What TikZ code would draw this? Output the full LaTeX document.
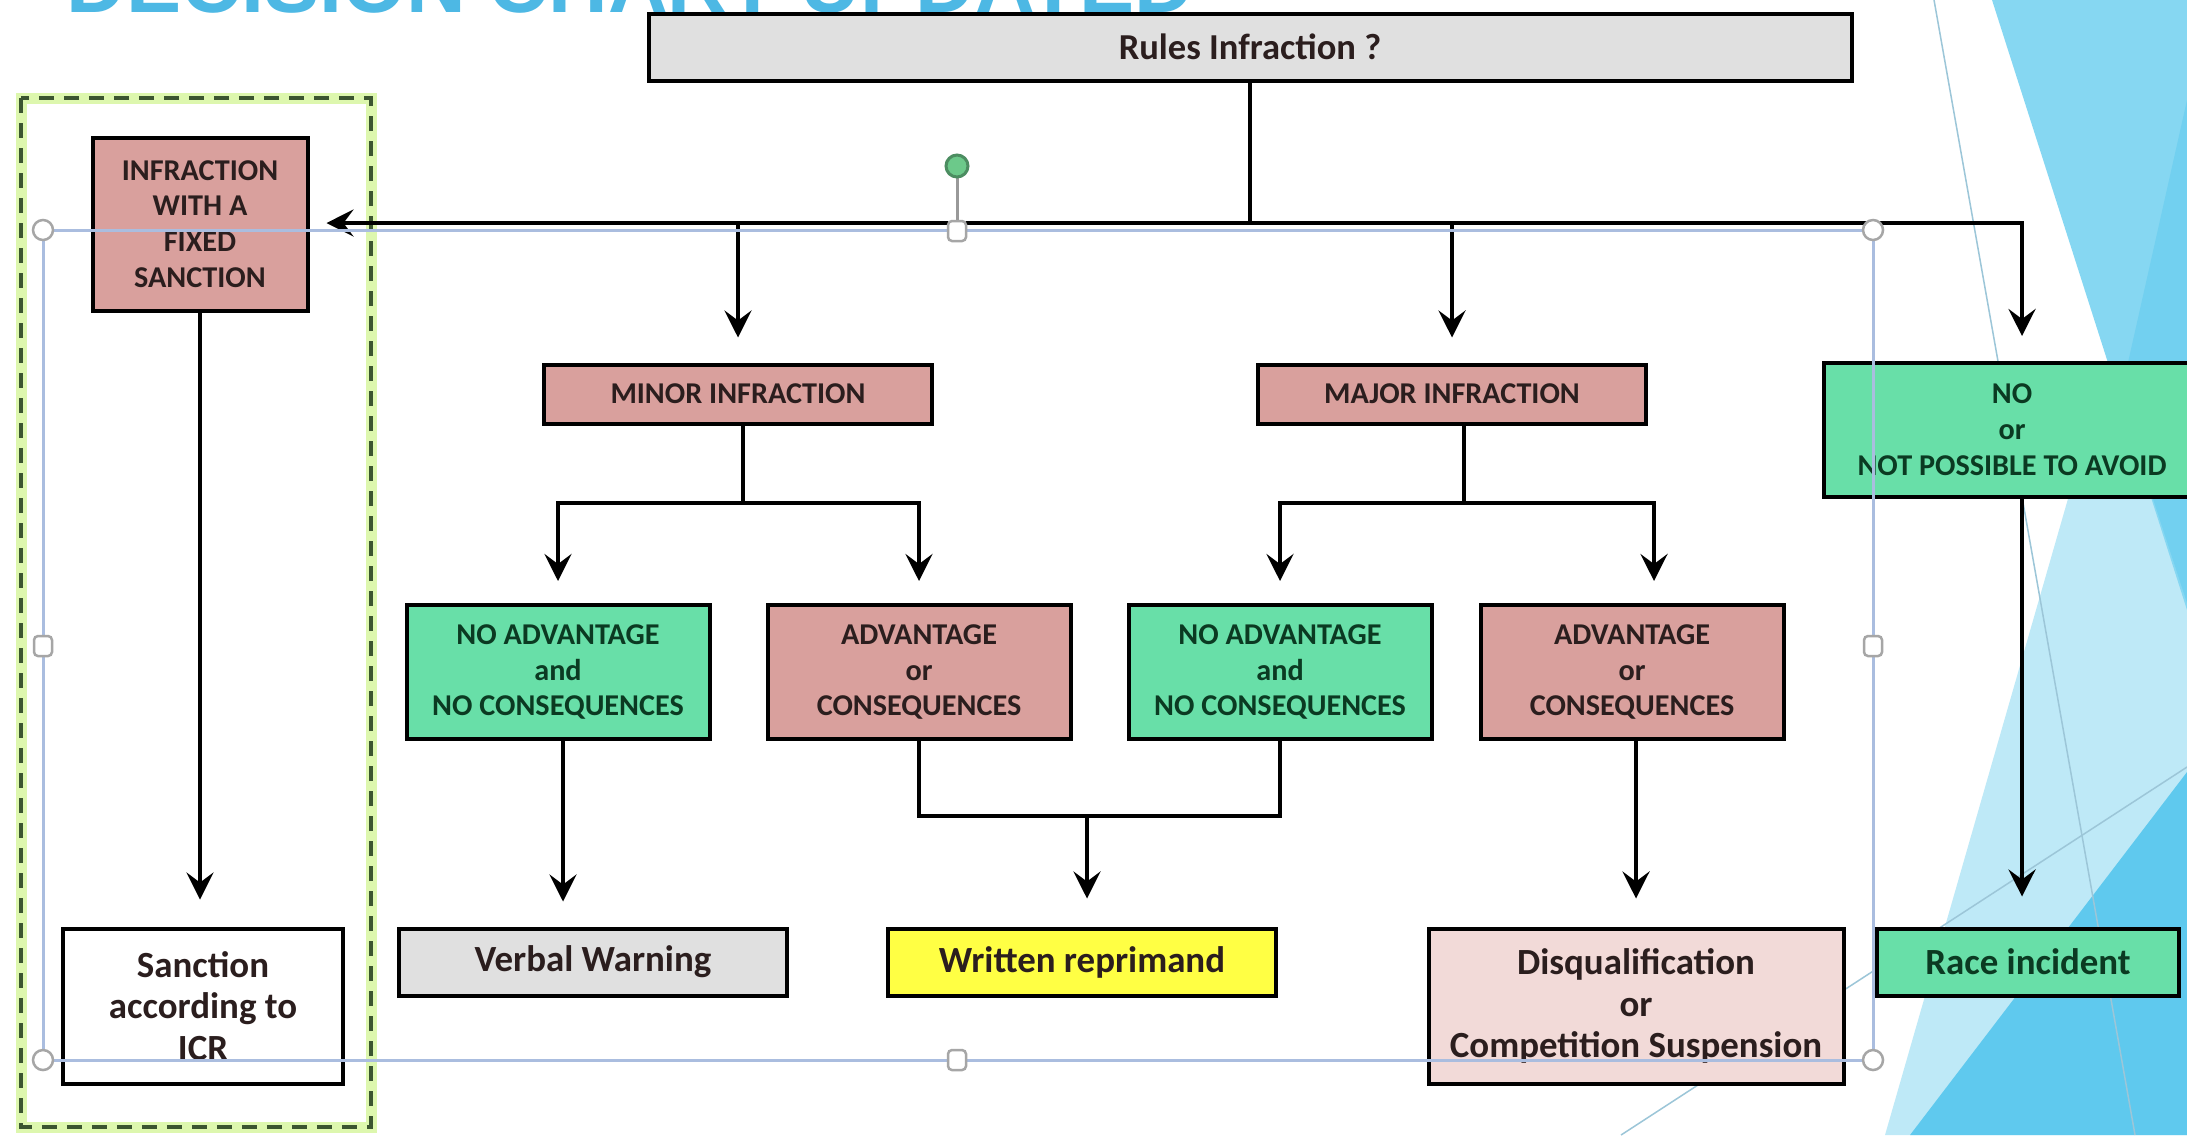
\documentclass[tikz,border=0pt]{standalone}
\usepackage{fontspec}
\setmainfont{Carlito}
\newfontfamily\titlefont{Liberation Sans}
\usepackage{xcolor}
\usetikzlibrary{arrows.meta,calc}

\definecolor{infred}{HTML}{D9A09D}
\definecolor{okgreen}{HTML}{68DFA8}
\definecolor{okink}{HTML}{0B3A22}
\definecolor{redink}{HTML}{2B1E1E}
\definecolor{boxgray}{HTML}{E0E0E0}
\definecolor{notice}{HTML}{FFFF44}
\definecolor{softred}{HTML}{F2DAD8}
\definecolor{slideblue}{HTML}{4DB8E4}
\definecolor{selblue}{HTML}{AABDDF}
\definecolor{rotgreen}{HTML}{6CC98A}
\definecolor{glow}{HTML}{DDF7AE}
\definecolor{dashgreen}{HTML}{3B5530}
\definecolor{facetpale}{HTML}{BEE9F7}
\definecolor{facetlight}{HTML}{86D7F2}
\definecolor{facetmid}{HTML}{72D0F0}
\definecolor{facetdeep}{HTML}{5FC9EE}
\definecolor{facetline}{HTML}{9CC6D8}

\begin{document}
\begin{tikzpicture}[x=0.1mm,y=-0.1mm,
  box/.style={draw=black,line width=0.4mm,align=center,inner sep=0pt,text=redink,
    font=\bfseries\fontsize{8.6}{10.2}\selectfont},
  goodbox/.style={box,fill=okgreen,text=okink},
  badbox/.style={box,fill=infred},
  outbox/.style={box,font=\bfseries\fontsize{10.5}{11.7}\selectfont},
  wire/.style={line width=0.4mm},
  arr/.style={wire,-{Stealth[length=2.7mm,width=2.7mm,inset=1mm]},shorten >=2.5mm},
  handle/.style={draw=gray!70,fill=white,line width=0.25mm}]
\useasboundingbox (0,0) rectangle (2187,1135);
\fill[white] (0,0) rectangle (2187,1135);

\fill[facetpale] (2105,370) -- (2187,370) -- (2187,1135) -- (1885,1135) -- cycle;
\fill[facetlight] (1992,0) -- (2187,0) -- (2187,610) -- cycle;
\fill[facetmid] (2187,100) -- (2120,398) -- (2187,603) -- cycle;
\fill[facetdeep] (1910,1135) -- (2187,772) -- (2187,1135) -- cycle;
\draw[facetline,line width=0.15mm] (1934,0) -- (2135,1135);
\draw[facetline,line width=0.15mm] (1621,1135) -- (2187,767);

\node[anchor=base west,inner sep=0pt,text=slideblue,
  font=\titlefont\bfseries\fontsize{23.5}{26}\selectfont] (title) at (66,12) {DECISION CHART UPDATED};

\draw[glow,line width=1.1mm] (21,98) rectangle (371,1127);
\draw[dashgreen,line width=0.4mm,dash pattern=on 1.5mm off 1mm] (21,98) rectangle (371,1127);

\node[box,fill=boxgray,minimum width=120.3mm,minimum height=6.7mm,
  font=\bfseries\fontsize{10.4}{12}\selectfont] (rules) at (1250,47) {Rules Infraction ?};
\node[badbox,minimum width=21.5mm,minimum height=17.3mm] (fixed) at (200,224) {INFRACTION\\WITH A\\FIXED\\SANCTION};
\node[outbox,fill=white,minimum width=28mm,minimum height=15.5mm] (sanction) at (203,1006) {Sanction\\according to\\ICR};
\node[badbox,minimum width=38.8mm,minimum height=5.9mm] (minor) at (738,394) {MINOR INFRACTION};
\node[badbox,minimum width=38.8mm,minimum height=5.9mm] (major) at (1452,394) {MAJOR INFRACTION};
\node[goodbox,minimum width=37.6mm,minimum height=13.4mm] (noavoid) at (2012,430) {NO\\or\\NOT POSSIBLE TO AVOID};
\node[goodbox,minimum width=30.3mm,minimum height=13.4mm] (calm1) at (558,672) {NO ADVANTAGE\\and\\NO CONSEQUENCES};
\node[badbox,minimum width=30.3mm,minimum height=13.4mm] (gain1) at (919,672) {ADVANTAGE\\or\\CONSEQUENCES};
\node[goodbox,minimum width=30.3mm,minimum height=13.4mm] (calm2) at (1280,672) {NO ADVANTAGE\\and\\NO CONSEQUENCES};
\node[badbox,minimum width=30.3mm,minimum height=13.4mm] (gain2) at (1632,672) {ADVANTAGE\\or\\CONSEQUENCES};
\node[outbox,fill=boxgray,minimum width=38.8mm,minimum height=6.7mm] (verbal) at (593,962) {Verbal Warning};
\node[outbox,fill=notice,minimum width=38.8mm,minimum height=6.7mm] (written) at (1082,962) {Written reprimand};
\node[outbox,fill=softred,minimum width=41.5mm,minimum height=15.5mm] (disq) at (1636,1006) {Disqualification\\or\\Competition Suspension};
\node[outbox,fill=okgreen,text=okink,minimum width=30.2mm,minimum height=6.7mm] (race) at (2028,962) {Race incident};

\coordinate (hub) at (1250,223);
\draw[wire] (rules) -- (hub);
\draw[arr] (hub) -| ($(noavoid.north)+(10,0)$);
\draw[arr,shorten >=1.7mm] (hub) -- (hub -| fixed.east);
\draw[arr] (minor.north |- hub) -- (minor);
\draw[arr] (major.north |- hub) -- (major);
\draw[arr,shorten >=2.7mm] (fixed.south) -- (fixed.south |- sanction.north);

\coordinate (mnfork) at ($(minor.south)+(5,77)$);
\draw[wire] (minor.south -| mnfork) -- (mnfork);
\draw[arr,shorten >=2.2mm] (mnfork) -| (calm1);
\draw[arr,shorten >=2.2mm] (mnfork) -| (gain1);
\coordinate (mjfork) at ($(major.south)+(12,77)$);
\draw[wire] (major.south -| mjfork) -- (mjfork);
\draw[arr,shorten >=2.2mm] (mjfork) -| (calm2);
\draw[arr,shorten >=2.2mm] (mjfork) -| ($(gain2.north)+(22,0)$);

\draw[arr] ($(calm1.south)+(5,0)$) coordinate (t1) -- (t1 |- verbal.north);
\coordinate (rejoin) at (1087,816);
\draw[wire] (gain1) |- (rejoin) -| (calm2);
\draw[arr,shorten >=2.8mm] (rejoin) -- (rejoin |- written.north);
\draw[arr,shorten >=2.8mm] ($(gain2.south)+(4,0)$) coordinate (t2) -- (t2 |- disq.north);
\draw[arr,shorten >=3mm] ($(noavoid.south)+(10,0)$) coordinate (t3) -- (t3 |- race.north);

\draw[selblue,line width=0.3mm] (43,230) rectangle (1873,1060);
\draw[gray!80,line width=0.3mm] (957,221) -- (957,178);
\filldraw[draw=rotgreen!70!black,fill=rotgreen,line width=0.3mm] (957,166) circle[radius=1.1mm];
\foreach \hx/\hy in {43/230,1873/230,43/1060,1873/1060}
  \draw[handle] (\hx,\hy) circle[radius=1mm];
\foreach \hx/\hy in {957/231,43/646,1873/646,957/1060}
  \draw[handle,rounded corners=0.4mm] (\hx-9,\hy-10) rectangle (\hx+9,\hy+10);
\end{tikzpicture}
\end{document}
